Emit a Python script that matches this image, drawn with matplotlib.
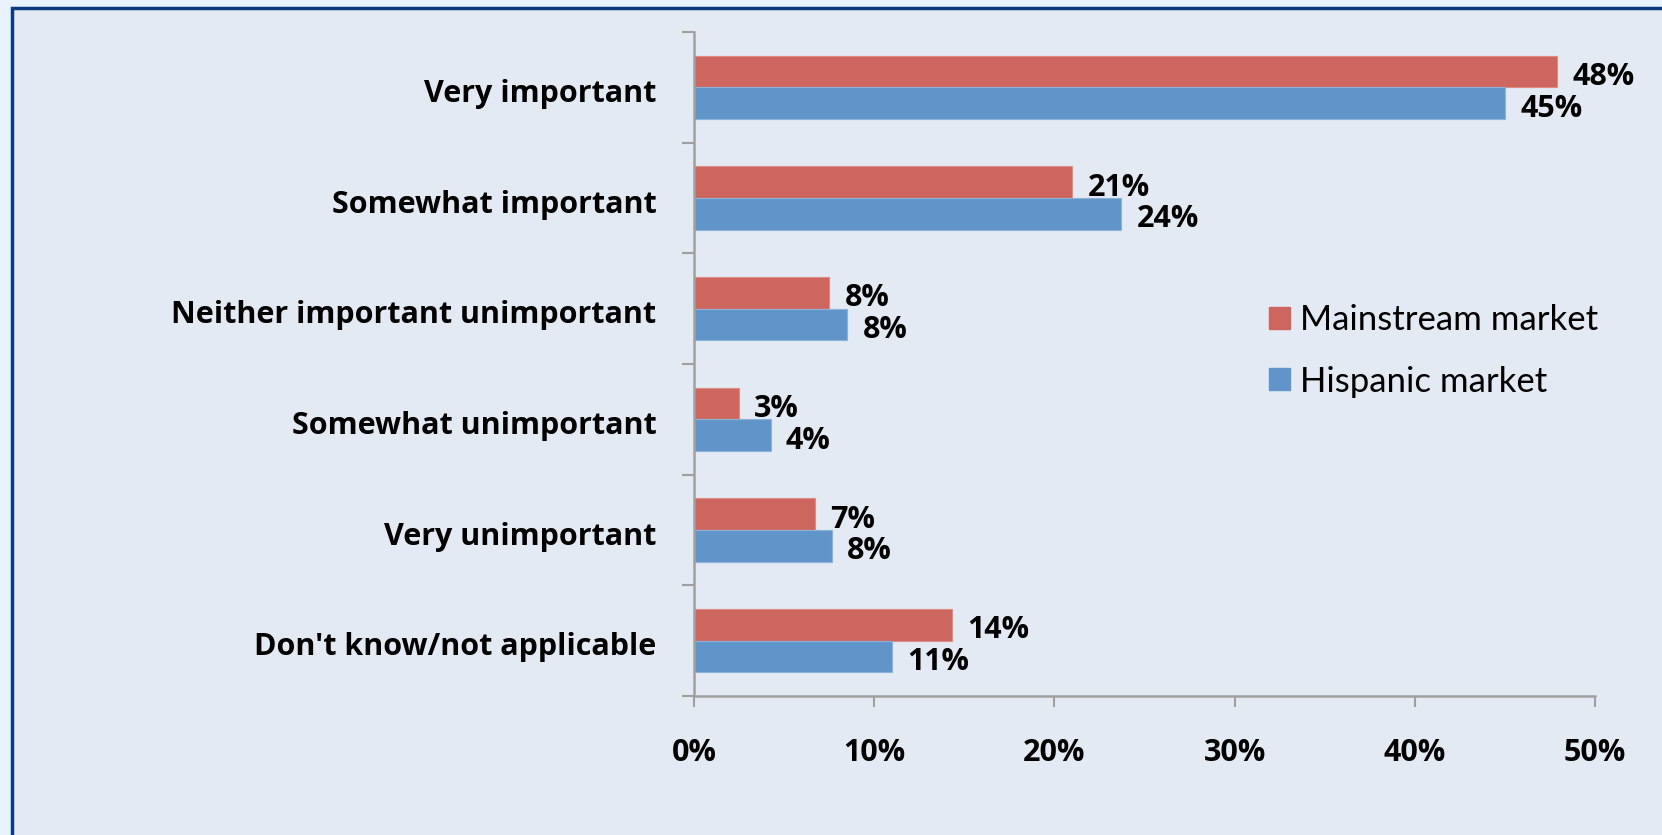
import matplotlib
matplotlib.use("Agg")
import matplotlib.pyplot as plt
from matplotlib.patches import Rectangle, Patch
import numpy as np

plt.rcParams['font.family'] = ['Lato', 'DejaVu Sans']
bold_font = ['Open Sans', 'DejaVu Sans']

categories = ["Very important", "Somewhat important", "Neither important unimportant",
              "Somewhat unimportant", "Very unimportant", "Don't know/not applicable"]
mainstream = [47.9, 21.0, 7.5, 2.5, 6.7, 14.3]
hispanic = [45.0, 23.7, 8.5, 4.25, 7.65, 11.0]
mainstream_labels = ["48%", "21%", "8%", "3%", "7%", "14%"]
hispanic_labels = ["45%", "24%", "8%", "4%", "8%", "11%"]
xticks = [0, 10, 20, 30, 40, 50]
xtick_labels = ["0%", "10%", "20%", "30%", "40%", "50%"]

red = "#CD665E"
blue = "#6195C9"
bg_in = "#E3EAF4"
bg_out = "#E8F2FC"
axis_grey = "#A0A0A0"
fs = 22

W, H = 1662, 835
fig = plt.figure(figsize=(W / 100, H / 100), dpi=100, facecolor=bg_out)

# outer frame (only left and top edges fall inside the picture)
fig.patches.append(Rectangle((11.5 / W, -0.05), 1.2, 1 - 8 / H + 0.05,
                             transform=fig.transFigure, facecolor=bg_in,
                             edgecolor="#0B3A80", linewidth=2.5, zorder=-5))

ax = fig.add_axes([694 / W, 1 - 696 / H, (1595 - 694) / W, (696 - 32) / H])
ax.set_facecolor("none")
ax.set_zorder(2)

centers = np.arange(len(categories)) + 0.5
h = 0.285
ax.barh(centers - h / 2, mainstream, height=h, color=red, edgecolor="#E08A84", linewidth=0.8)
ax.barh(centers + h / 2, hispanic, height=h, color=blue, edgecolor="#8AB2DA", linewidth=0.8)

for c, v, lab in zip(centers, mainstream, mainstream_labels):
    ax.annotate(lab, (v, c - h / 2), xytext=(11, -4), textcoords="offset points",
                va="center", ha="left", fontsize=fs, fontweight="bold", family=bold_font)
for c, v, lab in zip(centers, hispanic, hispanic_labels):
    ax.annotate(lab, (v, c + h / 2), xytext=(11, -4), textcoords="offset points",
                va="center", ha="left", fontsize=fs, fontweight="bold", family=bold_font)

ax.set_xlim(0, 50)
ax.set_ylim(len(categories), 0)

ax.set_xticks(xticks)
ax.set_xticklabels(xtick_labels, fontsize=fs, fontweight="bold", family=bold_font)
ax.tick_params(axis="x", direction="out", length=8, width=1.5, color=axis_grey, pad=22)

ax.set_yticks(np.arange(len(categories) + 1))
ax.set_yticklabels([])
ax.set_yticks(centers + 0.03, minor=True)
ax.set_yticklabels(categories, minor=True, fontsize=fs, fontweight="bold", family=bold_font)
ax.tick_params(axis="y", which="major", direction="out", length=9, width=1.5, color=axis_grey)
ax.tick_params(axis="y", which="minor", length=0, pad=27)

for s in ["top", "right"]:
    ax.spines[s].set_visible(False)
for s in ["left", "bottom"]:
    ax.spines[s].set_color(axis_grey)
    ax.spines[s].set_linewidth(1.8)

handles = [Patch(facecolor=red, edgecolor=red), Patch(facecolor=blue, edgecolor=blue)]
fig.legend(handles, ["Mainstream market", "Hispanic market"], loc="upper left",
           bbox_to_anchor=(1269 / W, 1 - 304 / H), frameon=False, fontsize=25,
           handlelength=0.6, handleheight=0.6, handletextpad=0.3, labelspacing=0.85,
           borderpad=0, borderaxespad=0)

fig.savefig("out.png", dpi=100, facecolor=fig.get_facecolor())
